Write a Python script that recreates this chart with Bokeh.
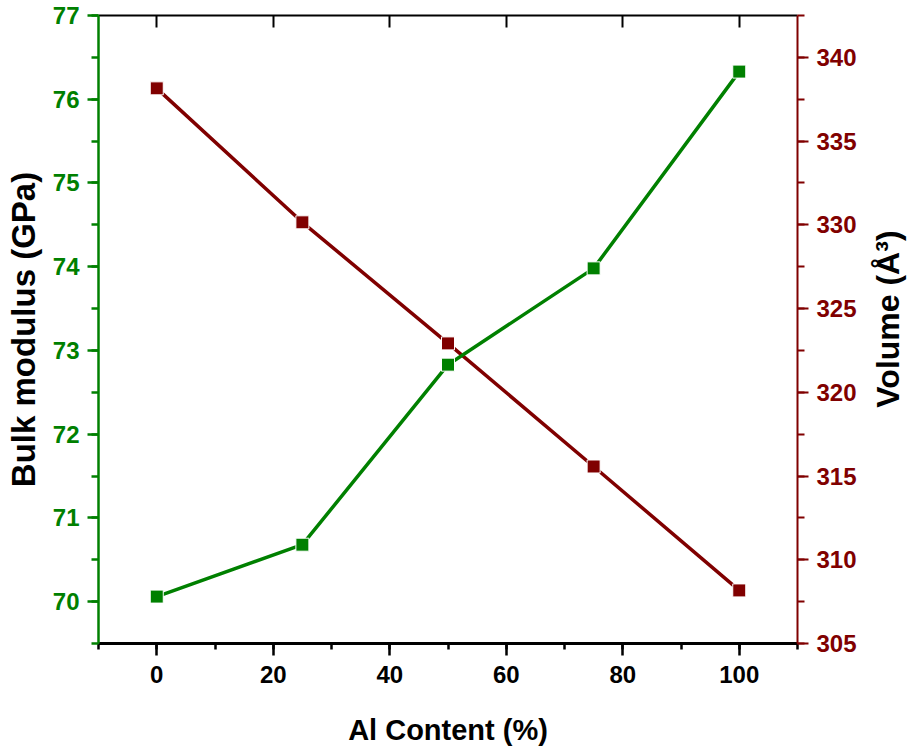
import math
from bokeh.plotting import figure
from bokeh.layouts import row
from bokeh.models import LinearAxis, Range1d, SingleIntervalTicker
from bokeh.core.properties import value
from bokeh.embed import file_html
from bokeh.resources import INLINE

al_content = [0, 25, 50, 75, 100]
bulk_modulus = [70.06, 70.68, 72.83, 73.98, 76.33]
volume = [338.15, 330.15, 322.92, 315.57, 308.17]

GREEN = "#008000"
RED = "#800000"
FONT = "Liberation Sans"

p = figure(width=867, height=751, output_backend="svg", toolbar_location=None,
           x_range=Range1d(-10, 110), y_range=Range1d(69.5, 77),
           min_border_left=98, min_border_right=70, min_border_top=15, min_border_bottom=108)
p.extra_y_ranges = {"vol": Range1d(305, 342.5)}
p.xgrid.visible = False
p.ygrid.visible = False
p.outline_line_color = None
p.background_fill_color = "white"
p.border_fill_color = "white"

# bottom axis
xa = p.xaxis[0]
xa.ticker = SingleIntervalTicker(interval=20, num_minor_ticks=2)
xa.axis_line_color = "black"
xa.axis_line_width = 3
xa.major_tick_line_width = 2.5
xa.minor_tick_line_width = 2.5
xa.major_tick_in = 0
xa.major_tick_out = 12
xa.minor_tick_in = 0
xa.minor_tick_out = 6
xa.major_label_text_font = FONT
xa.major_label_text_font_style = "bold"
xa.major_label_text_font_size = "24px"
xa.major_label_text_color = "black"
xa.major_label_standoff = 10
xa.axis_label = "Al Content (%)"
xa.axis_label_text_font = FONT
xa.axis_label_text_font_style = "bold"
xa.axis_label_text_font_size = "29px"
xa.axis_label_text_color = "black"
xa.axis_label_standoff = 28

# left axis
ya = p.yaxis[0]
ya.ticker = SingleIntervalTicker(interval=1, num_minor_ticks=2)
ya.axis_line_color = GREEN
ya.axis_line_width = 2.5
ya.major_tick_line_color = GREEN
ya.minor_tick_line_color = GREEN
ya.major_tick_line_width = 2.5
ya.minor_tick_line_width = 2.5
ya.major_tick_in = 0
ya.major_tick_out = 11
ya.minor_tick_in = 0
ya.minor_tick_out = 7
ya.major_label_text_font = FONT
ya.major_label_text_font_style = "bold"
ya.major_label_text_font_size = "24px"
ya.major_label_text_color = GREEN
ya.major_label_standoff = 8
ya.axis_label = "Bulk modulus (GPa)"
ya.axis_label_text_font = FONT
ya.axis_label_text_font_style = "bold"
ya.axis_label_text_font_size = "33px"
ya.axis_label_text_color = "black"
ya.axis_label_standoff = 8

# right axis
ra = LinearAxis(y_range_name="vol",
                ticker=SingleIntervalTicker(interval=5, num_minor_ticks=2))
ra.axis_line_color = RED
ra.axis_line_width = 2
ra.major_tick_line_color = RED
ra.minor_tick_line_color = RED
ra.major_tick_line_width = 2
ra.minor_tick_line_width = 2
ra.major_tick_in = 0
ra.major_tick_out = 11
ra.minor_tick_in = 0
ra.minor_tick_out = 7
ra.major_label_text_font = FONT
ra.major_label_text_font_style = "bold"
ra.major_label_text_font_size = "24px"
ra.major_label_text_color = RED
ra.major_label_standoff = 8
p.add_layout(ra, "right")

# top axis (ticks only)
ta = LinearAxis(ticker=SingleIntervalTicker(interval=20, num_minor_ticks=0))
ta.axis_line_color = "black"
ta.axis_line_width = 2
ta.major_tick_line_width = 2
ta.major_tick_in = 12
ta.major_tick_out = 0
ta.minor_tick_line_color = None
ta.major_label_text_color = None
ta.major_label_text_font_size = "0px"
ta.major_label_standoff = 0
p.add_layout(ta, "above")

# data
p.line(al_content, volume, y_range_name="vol", line_color=RED, line_width=3.5)
p.scatter(al_content, volume, y_range_name="vol", marker="square", size=13,
          fill_color=RED, line_color="white", line_width=1)
p.line(al_content, bulk_modulus, line_color=GREEN, line_width=3.5)
p.scatter(al_content, bulk_modulus, marker="square", size=13,
          fill_color=GREEN, line_color="white", line_width=1)

# narrow strip on the right holding the right-axis title (reads bottom-to-top)
p2 = figure(width=40, height=751, output_backend="svg", toolbar_location=None,
            x_range=Range1d(0, 40), y_range=Range1d(0, 751),
            min_border=0, min_border_left=0, min_border_right=0,
            min_border_top=0, min_border_bottom=0)
p2.axis.visible = False
p2.grid.visible = False
p2.outline_line_color = None
p2.background_fill_color = "white"
p2.border_fill_color = "white"
p2.text(x=[20], y=[388], text=["Volume (Å³)"], angle=math.pi / 2,
        text_align="center", text_baseline="middle",
        text_font=value(FONT), text_font_style="bold", text_font_size="32px",
        text_color="black")

layout = row(p, p2)
open("out.html", "w").write(file_html(layout, INLINE))
